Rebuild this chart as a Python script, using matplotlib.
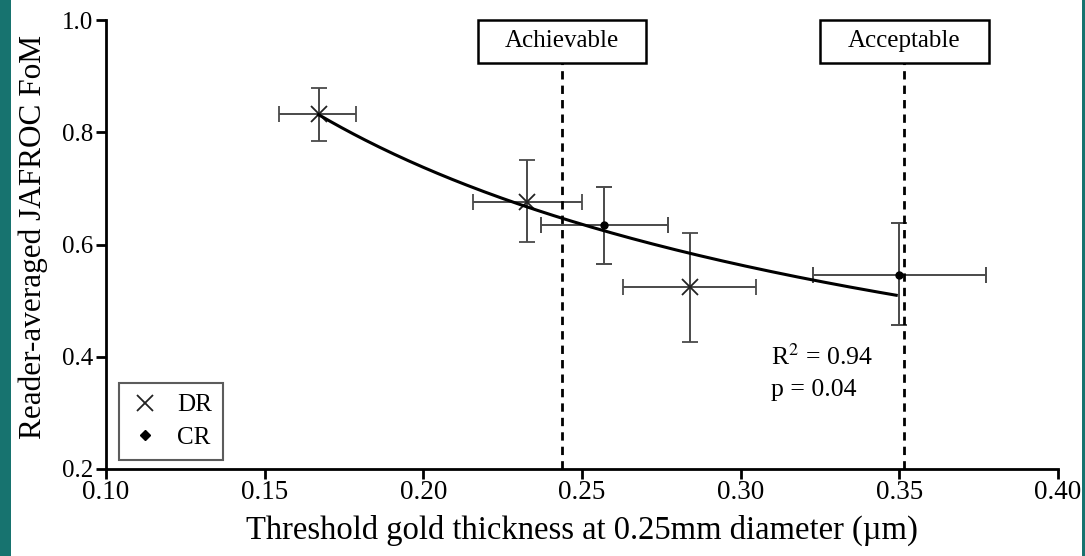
import numpy as np
import matplotlib
matplotlib.use("Agg")
import matplotlib.pyplot as plt
from matplotlib.patches import Rectangle

plt.rcParams['font.family'] = ['Liberation Serif', 'DejaVu Serif']

# DR points (x = threshold gold thickness, y = JAFROC FoM)
dr_x = [0.167, 0.2325, 0.284]
dr_y = [0.833, 0.676, 0.525]
dr_x_lo = [0.1545, 0.2157, 0.2628]
dr_x_hi = [0.1788, 0.2499, 0.3048]
dr_y_lo = [0.7845, 0.604, 0.427]
dr_y_hi = [0.879, 0.7507, 0.620]

# CR points
cr_x = [0.257, 0.3499]
cr_y = [0.634, 0.546]
cr_x_lo = [0.237, 0.3228]
cr_x_hi = [0.2772, 0.3772]
cr_y_lo = [0.565, 0.4568]
cr_y_hi = [0.702, 0.638]

# power-law fit y = a * x^-k, drawn over the data range
fit_a = 0.2533
fit_k = 0.664
fit_range = [0.167, 0.349]

# reference lines
ref_labels = ['Achievable', 'Acceptable']
ref_x = [0.2438, 0.3516]

fig = plt.figure(figsize=(10.85, 5.56), dpi=100)
fig.patch.set_facecolor('white')
# teal border strips of the slide
fig.patches.append(Rectangle((0, 0), 11 / 1085, 1, transform=fig.transFigure,
                             facecolor='#17736f', edgecolor='none', zorder=0))
fig.patches.append(Rectangle((1 - 3 / 1085, 0), 3 / 1085, 1, transform=fig.transFigure,
                             facecolor='#17736f', edgecolor='none', zorder=0))

ax = fig.add_axes([0.0977, 0.1565, 0.8775, 0.8075])

err_kw = dict(ecolor='#4a4a4a', elinewidth=1.4, capsize=6, capthick=1.4, linestyle='none')

dr_xerr = [np.array(dr_x) - np.array(dr_x_lo), np.array(dr_x_hi) - np.array(dr_x)]
dr_yerr = [np.array(dr_y) - np.array(dr_y_lo), np.array(dr_y_hi) - np.array(dr_y)]
ax.errorbar(dr_x, dr_y, xerr=dr_xerr, yerr=dr_yerr, fmt='x', color='#222222',
            markersize=12, markeredgewidth=1.3, **err_kw)

cr_xerr = [np.array(cr_x) - np.array(cr_x_lo), np.array(cr_x_hi) - np.array(cr_x)]
cr_yerr = [np.array(cr_y) - np.array(cr_y_lo), np.array(cr_y_hi) - np.array(cr_y)]
ax.errorbar(cr_x, cr_y, xerr=cr_xerr, yerr=cr_yerr, fmt='o', color='black',
            markersize=5, **err_kw)

xf = np.linspace(fit_range[0], fit_range[1], 200)
ax.plot(xf, fit_a * xf ** (-fit_k), color='black', lw=2.2, zorder=4)

for lab, xv in zip(ref_labels, ref_x):
    ax.axvline(xv, color='black', lw=2, linestyle=(0, (3, 2.2)), zorder=3)
    ax.add_patch(Rectangle((xv - 0.0265, 0.9234), 0.053, 0.0766, facecolor='white',
                           edgecolor='black', lw=1.8, zorder=5, clip_on=False))
    ax.text(xv, 0.962, lab, ha='center', va='center', fontsize=18, zorder=6)

ax.text(0.3095, 0.400, r'R$^2$ = 0.94', fontsize=18.5, va='center',
        math_fontfamily='stix')
ax.text(0.3095, 0.341, 'p = 0.04', fontsize=18.5, va='center')

# legend box
handles = [plt.Line2D([], [], marker='x', color='#222222', ls='none', markersize=11, markeredgewidth=1.3),
           plt.Line2D([], [], marker='D', color='black', ls='none', markersize=5)]
leg = ax.legend(handles, ['DR', 'CR'], loc='lower left', bbox_to_anchor=(0.0, -0.008),
                fontsize=18, frameon=True, fancybox=False, edgecolor='#333333',
                handletextpad=0.7, handlelength=1.2, borderpad=0.45, labelspacing=0.4)
leg.get_frame().set_linewidth(1.5)

ax.set_xlim(0.10, 0.40)
ax.set_ylim(0.2, 1.0)
ax.set_xticks(np.arange(0.10, 0.401, 0.05))
ax.set_yticks(np.arange(0.2, 1.001, 0.2))
ax.set_xticklabels(['%.2f' % v for v in np.arange(0.10, 0.401, 0.05)])
ax.set_yticklabels(['%.1f' % v for v in np.arange(0.2, 1.001, 0.2)])
ax.tick_params(axis='both', direction='out', length=7, width=2, labelsize=18, pad=2)
ax.tick_params(axis='x', labelsize=19.5, pad=1)

for s in ['top', 'right']:
    ax.spines[s].set_visible(False)
for s in ['left', 'bottom']:
    ax.spines[s].set_linewidth(2)

ax.set_xlabel('Threshold gold thickness at 0.25mm diameter (\u00b5m)', fontsize=23.5)
ax.set_ylabel('Reader-averaged JAFROC FoM', fontsize=22.5)
ax.xaxis.set_label_coords(0.5, -0.103)
ax.yaxis.set_label_coords(-0.061, 0.517)

fig.savefig('out.png', dpi=100)
